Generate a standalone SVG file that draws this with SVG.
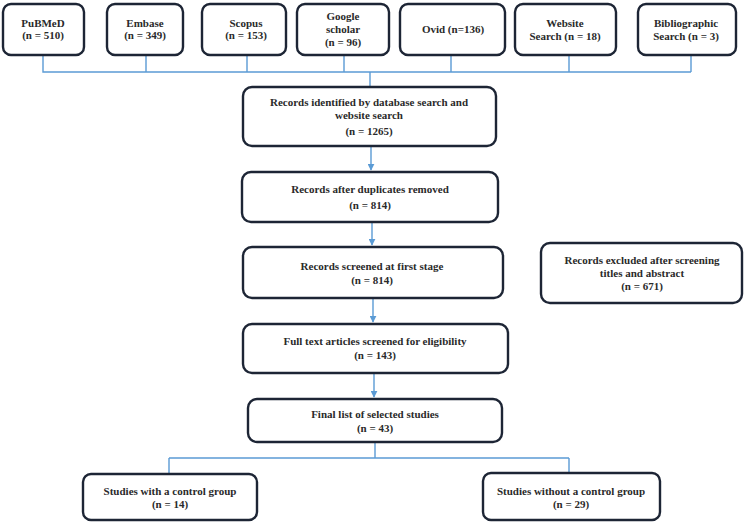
<svg xmlns="http://www.w3.org/2000/svg" width="746" height="523" viewBox="0 0 746 523">
<defs>
<style>
.box{fill:#fff;stroke:#1d2535;stroke-width:2.4}
.t{font-family:'Liberation Serif','Times New Roman','DejaVu Serif',serif;font-size:11px;font-weight:bold;fill:#2a2a2a;text-anchor:middle}
.c{fill:none;stroke:#5b9bd5;stroke-width:1.4}
</style>
<marker id="ah" viewBox="0 0 10 10" refX="9" refY="5" markerWidth="7" markerHeight="7" orient="auto" markerUnits="userSpaceOnUse">
<path d="M0,0 L10,5 L0,10 z" fill="#5b9bd5"/>
</marker>
</defs>
<rect width="746" height="523" fill="#fff"/>
<g id="connectors">
<path class="c" d="M43,55 V72 H691 M146,55 V72 M247,55 V72 M344,55 V72 M451,55 V72 M569,55 V72 M691,55 V72"/>
<path class="c" d="M370,72 V87"/>
<path class="c" d="M371,146 V170" marker-end="url(#ah)"/>
<path class="c" d="M372,222 V245" marker-end="url(#ah)"/>
<path class="c" d="M373,298 V322" marker-end="url(#ah)"/>
<path class="c" d="M374,373 V397" marker-end="url(#ah)"/>
<path class="c" d="M375,442 V458 M169,458 H569 M169,458 V474 M569,458 V473"/>
</g>
<g id="pubmed"><rect class="box" x="3" y="4" width="81" height="51" rx="8"/><text class="t" x="43" y="27">PuBMeD</text><text class="t" x="43" y="39">(n = 510)</text></g>
<g id="embase"><rect class="box" x="107" y="4" width="76" height="51" rx="8"/><text class="t" x="145" y="27">Embase</text><text class="t" x="145" y="39">(n = 349)</text></g>
<g id="scopus"><rect class="box" x="202" y="4" width="84" height="51" rx="8"/><text class="t" x="246" y="27">Scopus</text><text class="t" x="246" y="39">(n = 153)</text></g>
<g id="google"><rect class="box" x="297" y="4" width="92" height="51" rx="8"/><text class="t" x="343" y="20">Google</text><text class="t" x="343" y="33">scholar</text><text class="t" x="343" y="46">(n = 96)</text></g>
<g id="ovid"><rect class="box" x="400" y="4" width="105" height="51" rx="8"/><text class="t" x="453" y="33">Ovid (n=136)</text></g>
<g id="website"><rect class="box" x="515" y="4" width="101" height="51" rx="8"/><text class="t" x="565" y="27">Website</text><text class="t" x="565" y="40">Search (n = 18)</text></g>
<g id="bibliographic"><rect class="box" x="638" y="4" width="98" height="51" rx="8"/><text class="t" x="686" y="27">Bibliographic</text><text class="t" x="686" y="40">Search (n = 3)</text></g>
<g id="identified"><rect class="box" x="243" y="87" width="253" height="59" rx="9"/><text class="t" x="369" y="106">Records identified by database search and</text><text class="t" x="369" y="119">website search</text><text class="t" x="369" y="135">(n = 1265)</text></g>
<g id="duplicates"><rect class="box" x="242" y="172" width="256" height="50" rx="9"/><text class="t" x="370" y="193">Records after duplicates removed</text><text class="t" x="370" y="209">(n = 814)</text></g>
<g id="screened"><rect class="box" x="243" y="247" width="260" height="51" rx="9"/><text class="t" x="372" y="270">Records screened at first stage</text><text class="t" x="372" y="284">(n = 814)</text></g>
<g id="excluded"><rect class="box" x="541" y="243" width="201" height="60" rx="9"/><text class="t" x="642" y="264">Records excluded after screening</text><text class="t" x="642" y="277">titles and abstract</text><text class="t" x="642" y="290">(n = 671)</text></g>
<g id="fulltext"><rect class="box" x="243" y="324" width="265" height="49" rx="9"/><text class="t" x="375" y="345">Full text articles screened for eligibility</text><text class="t" x="375" y="359">(n = 143)</text></g>
<g id="final"><rect class="box" x="248" y="399" width="254" height="43" rx="9"/><text class="t" x="375" y="418">Final list of selected studies</text><text class="t" x="375" y="432">(n = 43)</text></g>
<g id="with-control"><rect class="box" x="83" y="474" width="174" height="46" rx="8"/><text class="t" x="170" y="495">Studies with a control group</text><text class="t" x="170" y="508">(n = 14)</text></g>
<g id="without-control"><rect class="box" x="483" y="473" width="177" height="47" rx="8"/><text class="t" x="571" y="495">Studies without a control group</text><text class="t" x="571" y="508">(n = 29)</text></g>
</svg>
